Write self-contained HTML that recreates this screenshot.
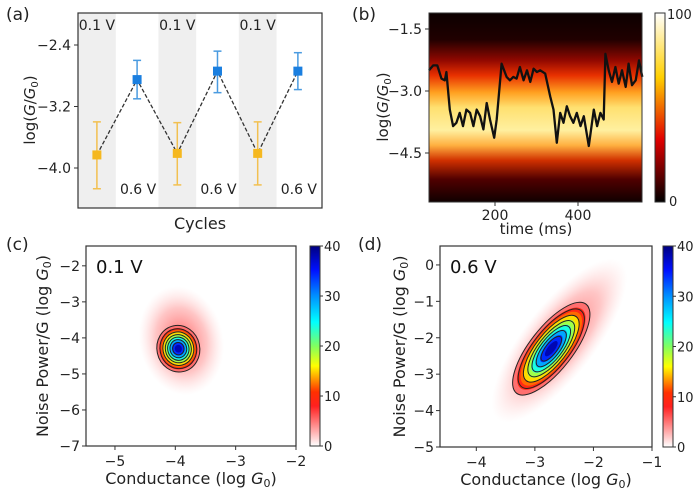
<!DOCTYPE html>
<html><head><meta charset="utf-8">
<style>
html,body{margin:0;padding:0;background:#fff;}
svg{display:block;font-family:"DejaVu Sans","Liberation Sans",sans-serif;}
</style></head>
<body>
<svg id="fig" width="700" height="491" viewBox="0 0 700 491" xmlns="http://www.w3.org/2000/svg">
<defs>
<linearGradient id="hot" x1="0" y1="1" x2="0" y2="0">
<stop offset="0" stop-color="#000"/><stop offset="0.33" stop-color="#e00000"/><stop offset="0.66" stop-color="#ffd000"/><stop offset="1" stop-color="#fff"/>
</linearGradient>
<linearGradient id="jetw" x1="0" y1="1" x2="0" y2="0">
<stop offset="0" stop-color="#fff"/><stop offset="0.2" stop-color="#ff2020"/><stop offset="0.27" stop-color="#ff3000"/><stop offset="0.33" stop-color="#ff9000"/><stop offset="0.4" stop-color="#ffff00"/><stop offset="0.5" stop-color="#80ff60"/><stop offset="0.62" stop-color="#00ffff"/><stop offset="0.75" stop-color="#0090ff"/><stop offset="0.88" stop-color="#0010ff"/><stop offset="1" stop-color="#000080"/>
</linearGradient>
<linearGradient id="heatbg" x1="0" y1="0" x2="0" y2="1">
<stop offset="0" stop-color="#0c0000"/><stop offset="0.14" stop-color="#200000"/><stop offset="0.25" stop-color="#900800"/><stop offset="0.33" stop-color="#e83000"/><stop offset="0.42" stop-color="#ffa020"/><stop offset="0.5" stop-color="#ffe070"/><stop offset="0.62" stop-color="#fff0a0"/><stop offset="0.7" stop-color="#ffb040"/><stop offset="0.78" stop-color="#d03000"/><stop offset="0.88" stop-color="#500000"/><stop offset="1" stop-color="#100000"/>
</linearGradient>
<radialGradient id="haloC"><stop offset="0" stop-color="#ff4040" stop-opacity="0.85"/><stop offset="0.6" stop-color="#ff8080" stop-opacity="0.45"/><stop offset="1" stop-color="#ffc0c0" stop-opacity="0"/></radialGradient>
</defs>
</svg>
<script>
// ---------- data ----------
const cycleX = [1,2,3,4,5,6];
const cycleY = [-3.83,-2.85,-3.81,-2.74,-3.81,-2.74];
const cycleErrHi = [-3.40,-2.60,-3.41,-2.48,-3.40,-2.50];
const cycleErrLo = [-4.27,-3.10,-4.22,-3.02,-4.22,-2.98];
const cycleBias = ['0.1','0.6','0.1','0.6','0.1','0.6'];
const aTicks = [-2.4,-3.2,-4.0];
const aTickLabels = ['\u22122.4','\u22123.2','\u22124.0'];

const traceT = [41,51,61,71,79,83,91,99,107,115,123,131,140,148,156,164,172,180,188,198,204,216,228,236,244,252,260,269,277,285,293,301,309,321,333,341,349,357,365,373,381,389,397,406,414,426,438,446,454,462,466,474,482,490,498,506,515,522,530,539,547,555];
const traceG = [-2.50,-2.38,-2.38,-2.70,-2.74,-2.54,-3.45,-3.85,-3.77,-3.53,-3.85,-3.45,-3.53,-3.85,-3.45,-3.61,-3.93,-3.29,-3.69,-4.13,-3.69,-2.34,-2.66,-2.74,-2.66,-2.70,-2.42,-2.74,-2.50,-2.78,-2.46,-2.54,-2.50,-2.58,-3.13,-3.45,-4.25,-3.53,-3.77,-3.37,-3.61,-3.77,-3.53,-3.85,-3.61,-4.33,-3.45,-3.85,-3.53,-3.69,-2.10,-2.50,-2.78,-2.42,-2.82,-2.50,-2.90,-2.34,-2.86,-2.74,-2.26,-2.66];
const bTicksY = [-1.5,-3.0,-4.5];
const bTicksYLabels = ['\u22121.5','\u22123.0','\u22124.5'];
const bTicksX = [200,400];

const cCenter = [-3.95,-4.3];
const dCenter = [-2.72,-2.3];
const contourLevels = [6,10,15,20,25,30,35];
const fillLevels = [6,9,12,15,19,24,29,34,38];
const cTicksX = [-5,-4,-3,-2];
const cTicksY = [-2,-3,-4,-5,-6,-7];
const dTicksX = [-4,-3,-2,-1];
const dTicksY = [0,-1,-2,-3,-4,-5];
const cbTicks = [0,10,20,30,40];

// ---------- helpers ----------
const NS='http://www.w3.org/2000/svg';
const svg=document.getElementById('fig');
function mk(tag,attrs,parent,text){const e=document.createElementNS(NS,tag);for(const k in attrs)e.setAttribute(k,attrs[k]);if(text!==undefined)e.textContent=text;(parent||svg).appendChild(e);return e;}
function lin(d0,d1,p0,p1){return v=>p0+(v-d0)/(d1-d0)*(p1-p0);}
const minus=v=>(v<0?'\u2212':'')+Math.abs(v);

// ---------- panel (a) ----------
const gA=mk('g',{});


const ax=lin(0.53,6.6,78,322), ay=lin(-2.4,-4.0,45,168);
[1,3,5].forEach(i=>{const r=mk('rect',{x:ax(i-0.47),y:13,width:ax(i+0.47)-ax(i-0.47),height:195,fill:'#efefef'},gA);

});
aTicks.forEach((t,i)=>{mk('line',{x1:74,x2:78,y1:ay(t),y2:ay(t),stroke:'#333'},gA);
const tl=mk('text',{x:71,y:ay(t)+5,'text-anchor':'end','font-size':14,fill:'#222'},gA,aTickLabels[i]);

});
let dpath='';cycleX.forEach((c,i)=>{dpath+=(i?'L':'M')+ax(c)+' '+ay(cycleY[i]);});
const dl=mk('path',{d:dpath,fill:'none',stroke:'#333','stroke-width':1.3,'stroke-dasharray':'4 2'},gA);


cycleX.forEach((c,i)=>{const col=cycleBias[i]==='0.1'?'#f5b820':'#1a7fe0';const ecol=cycleBias[i]==='0.1'?'#f2c050':'#4a9be0';
const x=ax(c);
mk('line',{x1:x,x2:x,y1:ay(cycleErrHi[i]),y2:ay(cycleErrLo[i]),stroke:ecol,'stroke-width':1.5},gA);
mk('line',{x1:x-4,x2:x+4,y1:ay(cycleErrHi[i]),y2:ay(cycleErrHi[i]),stroke:ecol,'stroke-width':1.5},gA);
mk('line',{x1:x-4,x2:x+4,y1:ay(cycleErrLo[i]),y2:ay(cycleErrLo[i]),stroke:ecol,'stroke-width':1.5},gA);
const p=mk('rect',{x:x-4.5,y:ay(cycleY[i])-4.5,width:9,height:9,fill:col},gA);


const lab=mk('text',{x:cycleBias[i]==='0.1'?x:x+1,y:cycleBias[i]==='0.1'?30:194,'text-anchor':'middle','font-size':14,fill:'#222'},gA,cycleBias[i]+' V');

});
mk('rect',{x:78,y:13,width:244,height:195,fill:'none',stroke:'#333','stroke-width':1.2},gA);
const yA=mk('text',{transform:'translate(35,110) rotate(-90)','text-anchor':'middle','font-size':15,fill:'#222'},gA);
yA.innerHTML='log(<tspan font-style="italic">G</tspan>/<tspan font-style="italic">G</tspan><tspan font-size="10" dy="3">0</tspan><tspan dy="-3">)</tspan>';


const xA=mk('text',{x:200,y:229,'text-anchor':'middle','font-size':16,fill:'#222'},gA,'Cycles');


const pa=mk('text',{x:6,y:20,'font-size':17,fill:'#222'},gA,'(a)');



// ---------- panel (b) ----------
const gB=mk('g',{});


const bx=lin(200,400,495,578), by=lin(-1.5,-3.0,29,91);
const hm=mk('rect',{x:429,y:13,width:213,height:189,fill:'url(#heatbg)'},gB);


let tp='';traceT.forEach((t,i)=>{tp+=(i?'L':'M')+bx(t).toFixed(1)+' '+by(traceG[i]).toFixed(1);});
const tr=mk('path',{d:tp,fill:'none',stroke:'#111','stroke-width':2.3,'stroke-linejoin':'round'},gB);


mk('rect',{x:429,y:13,width:213,height:189,fill:'none',stroke:'#333'},gB);
bTicksY.forEach((t,i)=>{mk('line',{x1:425,x2:429,y1:by(t),y2:by(t),stroke:'#333'},gB);
const tl=mk('text',{x:422,y:by(t)+5,'text-anchor':'end','font-size':14,fill:'#222'},gB,bTicksYLabels[i]);

});
bTicksX.forEach(t=>{mk('line',{x1:bx(t),x2:bx(t),y1:202,y2:206,stroke:'#333'},gB);
const tl=mk('text',{x:bx(t),y:220,'text-anchor':'middle','font-size':14,fill:'#222'},gB,String(t));

});
const xB=mk('text',{x:536,y:234,'text-anchor':'middle','font-size':15,fill:'#222'},gB,'time (ms)');


const yB=mk('text',{transform:'translate(388,107) rotate(-90)','text-anchor':'middle','font-size':15,fill:'#222'},gB);
yB.innerHTML='log(<tspan font-style="italic">G</tspan>/<tspan font-style="italic">G</tspan><tspan font-size="10" dy="3">0</tspan><tspan dy="-3">)</tspan>';


const cbB=mk('rect',{x:655,y:13,width:10,height:189,fill:'url(#hot)',stroke:'#333'},gB);


mk('text',{x:667,y:19,'font-size':13,fill:'#222'},gB,'100');
mk('text',{x:669,y:206,'font-size':13,fill:'#222'},gB,'0');
const pb=mk('text',{x:352,y:20,'font-size':17,fill:'#222'},gB,'(b)');



// ---------- panels (c),(d) ----------
const jetStops=[[0,[255,255,255]],[5,[255,150,150]],[8,[255,32,32]],[11,[255,60,0]],[13,[255,150,0]],[16,[255,255,0]],[20,[128,255,96]],[25,[0,255,255]],[30,[0,144,255]],[35,[0,16,255]],[40,[0,0,128]]];
function jet(v){for(let i=1;i<jetStops.length;i++){if(v<=jetStops[i][0]){const a=jetStops[i-1],b=jetStops[i];const f=(v-a[0])/(b[0]-a[0]);return 'rgb('+a[1].map((c,k)=>Math.round(c+(b[1][k]-c)*f)).join(',')+')';}}return 'rgb(0,0,128)';}

function densityPanel(o){
 const g=mk('g',{});
 
 
 const sx=lin(o.xd[0],o.xd[1],o.box[0],o.box[2]), sy=lin(o.yd[0],o.yd[1],o.box[1],o.box[3]);
 const cx=sx(o.center[0]), cy=sy(o.center[1]);
 const halo=mk('ellipse',{cx:cx+o.haloOff[0],cy:cy+o.haloOff[1],rx:o.halo[0],ry:o.halo[1],fill:'url(#haloC)',transform:`rotate(${o.rot} ${cx+o.haloOff[0]} ${cy+o.haloOff[1]})`},g);
 
 
 fillLevels.forEach(l=>{const k=Math.sqrt(2*Math.log(40/l));
  const e=mk('ellipse',{cx,cy,rx:o.sig[0]*k,ry:o.sig[1]*k,fill:jet(l),transform:`rotate(${o.rot} ${cx} ${cy})`},g);
  
  });
 contourLevels.forEach(l=>{const k=Math.sqrt(2*Math.log(40/l));
  const e=mk('ellipse',{cx,cy,rx:o.sig[0]*k,ry:o.sig[1]*k,fill:'none',stroke:'#222','stroke-width':1,transform:`rotate(${o.rot} ${cx} ${cy})`},g);
  
  });
 mk('rect',{x:o.box[0],y:o.box[1],width:o.box[2]-o.box[0],height:o.box[3]-o.box[1],fill:'none',stroke:'#333','stroke-width':1.2},g);
 o.tx.forEach(t=>{mk('line',{x1:sx(t),x2:sx(t),y1:o.box[3],y2:o.box[3]+4,stroke:'#333'},g);
  const tl=mk('text',{x:sx(t),y:o.box[3]+20,'text-anchor':'middle','font-size':14,fill:'#222'},g,minus(t));
  
  });
 o.ty.forEach(t=>{mk('line',{x1:o.box[0]-4,x2:o.box[0],y1:sy(t),y2:sy(t),stroke:'#333'},g);
  const tl=mk('text',{x:o.box[0]-6,y:sy(t)+5,'text-anchor':'end','font-size':14,fill:'#222'},g,minus(t));
  
  });
 const bl=mk('text',{x:o.box[0]+10,y:o.box[1]+27,'font-size':18,fill:'#111'},g,o.bias);
 
 
 const xt=mk('text',{x:(o.box[0]+o.box[2])/2,y:o.box[3]+38,'text-anchor':'middle','font-size':16,fill:'#222'},g);
 xt.innerHTML='Conductance (log <tspan font-style="italic">G</tspan><tspan font-size="11" dy="3">0</tspan><tspan dy="-3">)</tspan>';
 
 
 const yt=mk('text',{transform:`translate(${o.ylabX},${(o.box[1]+o.box[3])/2}) rotate(-90)`,'text-anchor':'middle','font-size':16,fill:'#222'},g);
 yt.innerHTML='Noise Power/G (log <tspan font-style="italic">G</tspan><tspan font-size="11" dy="3">0</tspan><tspan dy="-3">)</tspan>';
 
 
 const cb=mk('rect',{x:o.cbx,y:o.box[1],width:10,height:o.box[3]-o.box[1],fill:'url(#jetw)',stroke:'#333'},g);
 
 
 const cby=lin(0,40,o.box[3],o.box[1]);
 cbTicks.forEach(t=>{mk('line',{x1:o.cbx+10,x2:o.cbx+13,y1:cby(t),y2:cby(t),stroke:'#333'},g);
  mk('text',{x:o.cbx+14,y:cby(t)+5,'font-size':13,fill:'#222'},g,String(t));});
 const pl=mk('text',{x:o.plabel[0],y:o.plabel[1],'font-size':17,fill:'#222'},g,o.label);
 
 
}
densityPanel({name:'panel-c',box:[86,246,296,446],xd:[-5.48,-2],yd:[-1.45,-7],center:cCenter,sig:[11,12],rot:-12,halo:[42,55],haloOff:[3,-8],tx:cTicksX,ty:cTicksY,bias:'0.1 V',ylabX:48,cbx:310,label:'(c)',plabel:[6,250]});
densityPanel({name:'panel-d',box:[440,246,652,447],xd:[-4.62,-1],yd:[0.52,-5],center:dCenter,sig:[29,11],rot:-52,halo:[100,36],haloOff:[8,-8],tx:dTicksX,ty:dTicksY,bias:'0.6 V',ylabX:405,cbx:663,label:'(d)',plabel:[358,250]});
</script>
</body></html>
